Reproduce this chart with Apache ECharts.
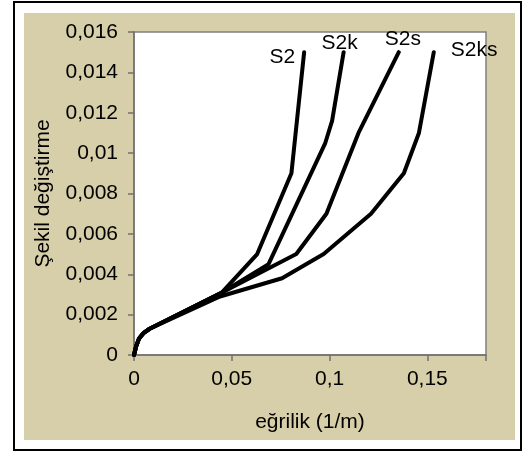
<!DOCTYPE html>
<html><head><meta charset="utf-8">
<script src="https://cdn.jsdelivr.net/npm/echarts@6/dist/echarts.min.js"></script>
<style>html,body{margin:0;padding:0;background:#fff}#c{width:523px;height:452px}</style>
</head><body><div id="c"></div>
<script>
var seriesNames = ['S2', 'S2k', 'S2s', 'S2ks'];
var s2   = [[0,0],[0.001,0.0004],[0.0025,0.0008],[0.005,0.0011],[0.008,0.0013],[0.045,0.0031],[0.063,0.005],[0.0805,0.009],[0.087,0.015]];
var s2k  = [[0,0],[0.001,0.0004],[0.0025,0.0008],[0.005,0.0011],[0.008,0.0013],[0.045,0.0031],[0.0688,0.0045],[0.0978,0.0105],[0.1013,0.0116],[0.1072,0.015]];
var s2s  = [[0,0],[0.001,0.0004],[0.0025,0.0008],[0.005,0.0011],[0.008,0.0013],[0.045,0.0031],[0.083,0.005],[0.0984,0.007],[0.1148,0.011],[0.1354,0.015]];
var s2ks = [[0,0],[0.001,0.0004],[0.0025,0.0008],[0.005,0.0011],[0.008,0.0013],[0.044,0.0029],[0.0757,0.0038],[0.097,0.005],[0.1212,0.007],[0.138,0.009],[0.1457,0.011],[0.1533,0.015]];
var xTickLabels = ['0', '0,05', '0,1', '0,15'];
var yTickLabels = ['0', '0,002', '0,004', '0,006', '0,008', '0,01', '0,012', '0,014', '0,016'];
var xLabel = 'eğrilik (1/m)';
var yLabel = 'Şekil değiştirme';

var FONT = 'Liberation Sans';
var FS = 21;
var labelPos = [
  {position: 'left', offset: [-4, 5]},
  {position: 'top', offset: [-4, 7]},
  {position: 'top', offset: [4, 3]},
  {position: 'right', offset: [12, -2]}
];
var allData = [s2, s2k, s2s, s2ks];

var chart = echarts.init(document.getElementById('c'), null, {renderer: 'canvas'});
var series = allData.map(function (d, i) {
  var data = d.map(function (p, j) {
    if (j === d.length - 1) {
      return {value: p, label: {show: true, formatter: seriesNames[i], position: labelPos[i].position,
        offset: labelPos[i].offset, distance: 5, color: '#000', fontFamily: FONT, fontSize: FS}};
    }
    return p;
  });
  return {
    name: seriesNames[i], type: 'line', data: data, showSymbol: true, symbol: 'circle', symbolSize: 0,
    itemStyle: {color: '#000'},
    lineStyle: {color: '#000', width: 4, join: 'round', cap: 'round'},
    label: {show: false}, animation: false, z: 3
  };
});

chart.setOption({
  backgroundColor: '#fff',
  animation: false,
  graphic: [
    {type: 'rect', shape: {x: 14, y: 2, width: 507, height: 448}, style: {fill: '#fff', stroke: '#000', lineWidth: 2}, z: -10},
    {type: 'rect', shape: {x: 24, y: 13, width: 491, height: 427}, style: {fill: '#D7CFA9', stroke: null}, z: -9}
  ],
  grid: {left: 134, top: 32, right: 37, bottom: 97, show: true, backgroundColor: '#fff', borderColor: '#808080', borderWidth: 1.5},
  xAxis: {
    type: 'value', min: 0, max: 0.18, interval: 0.05,
    name: xLabel, nameLocation: 'middle', nameGap: 57,
    nameTextStyle: {fontFamily: FONT, fontSize: FS, color: '#000'},
    axisLine: {show: true, lineStyle: {color: '#707070', width: 1.5}},
    axisTick: {show: true, length: 6, lineStyle: {color: '#707070', width: 1.5}},
    splitLine: {show: false},
    axisLabel: {fontFamily: FONT, fontSize: FS, color: '#000', margin: 14,
      formatter: function (v) { var i = Math.round(v / 0.05); return xTickLabels[i] !== undefined ? xTickLabels[i] : ''; }}
  },
  yAxis: {
    type: 'value', min: 0, max: 0.016, interval: 0.002,
    name: yLabel, nameLocation: 'middle', nameGap: 80, nameRotate: 90,
    nameTextStyle: {fontFamily: FONT, fontSize: FS, color: '#000'},
    axisLine: {show: true, lineStyle: {color: '#707070', width: 1.5}},
    axisTick: {show: true, length: 6, lineStyle: {color: '#707070', width: 1.5}},
    splitLine: {show: false},
    axisLabel: {fontFamily: FONT, fontSize: FS, color: '#000', margin: 16,
      formatter: function (v) { var i = Math.round(v / 0.002); return yTickLabels[i] !== undefined ? yTickLabels[i] : ''; }}
  },
  series: series
});
</script></body></html>
